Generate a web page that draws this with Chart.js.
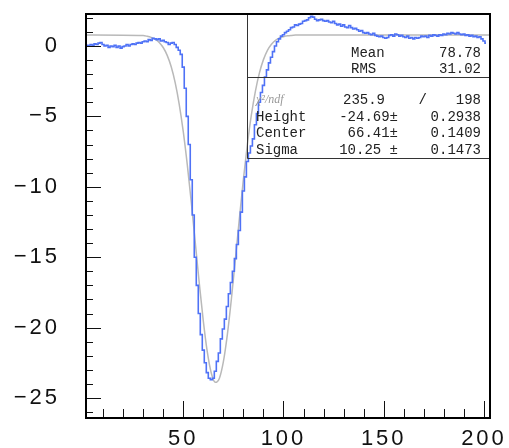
<!DOCTYPE html>
<html>
<head>
<meta charset="utf-8">
<script src="https://cdn.jsdelivr.net/npm/chart.js@4"></script>
<style>
  body { margin: 0; background: #fff; }
  canvas { display: block; }
</style>
</head>
<body>
<canvas id="chart" width="509" height="448"></canvas>
<script>
// histogram bins start at x = 1, one unit wide
const binStart = 1;
const histValues = [
  0.0, 0.05, 0.0, 0.1, 0.05, 0.15, 0.1, 0.2, 0.25, 0.1,
  0.0, 0.05, -0.1, 0.0, -0.05, 0.05, -0.1, 0.0, -0.15, -0.05,
  0.0, 0.1, 0.0, 0.1, 0.15, 0.1, 0.2, 0.25, 0.2, 0.3,
  0.35, 0.3, 0.45, 0.4, 0.55, 0.5, 0.45, 0.5, 0.35, 0.4,
  0.3, 0.25, 0.1, 0.2, 0.25, 0.1, -0.1, -0.3, -0.6, -1.5,
  -3.0, -5.0, -7.0, -9.5, -12.0, -15.0, -17.0, -19.0, -20.5, -21.6,
  -22.5, -23.2, -23.6, -23.7, -23.6, -23.1, -22.4, -21.8, -20.8, -20.1,
  -19.4, -18.5, -17.6, -16.8, -16.0, -15.1, -14.1, -13.1, -11.8, -10.3,
  -9.3, -8.2, -7.6, -7.1, -6.6, -5.6, -4.8, -4.0, -3.3, -2.8,
  -2.2, -1.7, -1.2, -0.8, -0.4, 0.0, 0.3, 0.5, 0.7, 0.8,
  0.95, 1.05, 1.15, 1.3, 1.35, 1.5, 1.45, 1.55, 1.6, 1.75,
  1.8, 1.85, 2.0, 2.1, 2.05, 1.9, 1.8, 1.85, 1.9, 1.8,
  1.75, 1.8, 1.7, 1.65, 1.75, 1.6, 1.5, 1.55, 1.4, 1.5,
  1.35, 1.3, 1.45, 1.3, 1.2, 1.25, 1.15, 1.05, 1.1, 0.95,
  0.9, 0.95, 0.85, 0.8, 0.9, 0.75, 0.7, 0.65, 0.7, 0.6,
  0.55, 0.6, 0.75, 0.8, 0.7, 0.85, 0.8, 0.7, 0.75, 0.65,
  0.6, 0.7, 0.55, 0.6, 0.5, 0.6, 0.55, 0.6, 0.7, 0.65,
  0.7, 0.6, 0.75, 0.7, 0.8, 0.75, 0.7, 0.8, 0.75, 0.85,
  0.8, 0.9, 0.85, 0.95, 0.9, 0.85, 0.95, 0.85, 0.8, 0.85,
  0.75, 0.8, 0.7, 0.75, 0.65, 0.7, 0.6, 0.65, 0.5, 0.35,
  0.2
];

// fitted curve
const fitX = [1, 30, 32, 34, 36, 38, 40, 42, 44, 46, 48, 50, 52, 54, 56, 58, 60, 62, 64, 66,
  68, 70, 72, 74, 76, 78, 80, 82, 84, 86, 88, 90, 92, 94, 96, 98, 100, 102, 104, 106, 110, 203];
const fitY = [0.78, 0.74, 0.69, 0.61, 0.48, 0.25, -0.11, -0.67, -1.48, -2.62, -4.14, -6.07, -8.41, -11.08, -13.96, -16.85, -19.52, -21.73, -23.24, -23.89,
  -23.61, -22.44, -20.5, -17.99, -15.16, -12.25, -9.47, -6.98, -4.88, -3.2, -1.91, -0.97, -0.31, 0.12, 0.4, 0.57, 0.66, 0.72, 0.75, 0.77, 0.78, 0.78];

const yTicks = [0, -5, -10, -15, -20, -25];
const xTicks = [50, 100, 150, 200];

const statsTop = [["Mean", "78.78"], ["RMS", "31.02"]];
const chi2 = ["235.9", "198"];
const fitParams = [
  ["Height", "-24.69\u00b1", "0.2938"],
  ["Center", "66.41\u00b1", "0.1409"],
  ["Sigma", "10.25 \u00b1", "0.1473"]
];

const tickFont = { family: "'Liberation Sans', Arial, sans-serif", size: 22 };

const noPad = (s) => {
  s.paddingTop = 0;
  s.paddingBottom = 0;
  s.paddingLeft = 0;
  s.paddingRight = 0;
};

const frameAndTicks = {
  id: "frameAndTicks",
  beforeDraw(chart) {
    chart.ctx.letterSpacing = "3px";
  },
  afterDatasetsDraw(chart) {
    const ctx = chart.ctx;
    const a = chart.chartArea;
    const xs = chart.scales.x, ys = chart.scales.y;
    ctx.save();
    ctx.letterSpacing = "0px";
    ctx.strokeStyle = "#111";
    ctx.lineWidth = 1;
    ctx.beginPath();
    for (let v = -26; v <= 2; v++) {
      const py = Math.round(ys.getPixelForValue(v)) + 0.5;
      const len = v % 5 === 0 ? 15 : 7;
      ctx.moveTo(a.left, py);
      ctx.lineTo(a.left + len, py);
    }
    for (let v = 10; v <= 200; v += 10) {
      const px = Math.round(xs.getPixelForValue(v)) + 0.5;
      const len = v % 50 === 0 ? 17 : 9;
      ctx.moveTo(px, a.bottom);
      ctx.lineTo(px, a.bottom - len);
    }
    ctx.stroke();

    // stats box
    const bx = 247.5;
    ctx.strokeStyle = "#333";
    ctx.beginPath();
    ctx.moveTo(bx, a.top);
    ctx.lineTo(bx, 158.5);
    ctx.moveTo(bx, 77.5);
    ctx.lineTo(a.right, 77.5);
    ctx.moveTo(bx, 158.5);
    ctx.lineTo(a.right, 158.5);
    ctx.stroke();

    ctx.font = "14px 'Liberation Mono', monospace";
    ctx.fillStyle = "#222";
    ctx.textBaseline = "middle";
    statsTop.forEach((row, i) => {
      const y = 53 + i * 16;
      ctx.textAlign = "left";
      ctx.fillText(row[0], 351, y);
      ctx.textAlign = "right";
      ctx.fillText(row[1], 481, y);
    });

    ctx.textAlign = "left";
    ctx.fillStyle = "#999";
    ctx.font = "italic 12px 'Liberation Serif', serif";
    ctx.fillText("\u03c7\u00b2/ndf", 256, 100);
    ctx.font = "14px 'Liberation Mono', monospace";
    ctx.fillStyle = "#222";
    ctx.textAlign = "right";
    ctx.fillText(chi2[0], 385, 100);
    ctx.fillText("/", 427, 100);
    ctx.fillText(chi2[1], 481, 100);
    fitParams.forEach((row, i) => {
      const y = 117 + i * 16.5;
      ctx.textAlign = "left";
      ctx.fillText(row[0], 256, y);
      ctx.textAlign = "right";
      ctx.fillText(row[1], 398, y);
      ctx.fillText(row[2], 481, y);
    });

    ctx.strokeStyle = "#000";
    ctx.lineWidth = 2;
    ctx.strokeRect(a.left, a.top, a.right - a.left, a.bottom - a.top);
    ctx.restore();
  }
};

new Chart(document.getElementById("chart"), {
  type: "line",
  data: {
    datasets: [
      {
        data: histValues.map((v, i) => ({ x: binStart + i, y: v })),
        borderColor: "#4f72f6",
        borderWidth: 1.6,
        pointRadius: 0,
        stepped: "middle",
        fill: false
      },
      {
        data: fitX.map((x, i) => ({ x: x, y: fitY[i] })),
        borderColor: "#b9b9b9",
        borderWidth: 1.5,
        pointRadius: 0,
        cubicInterpolationMode: "monotone",
        fill: false
      }
    ]
  },
  options: {
    responsive: false,
    animation: false,
    devicePixelRatio: 1,
    layout: { padding: { top: 14, right: 19, left: 0, bottom: 0 } },
    plugins: { legend: { display: false }, tooltip: { enabled: false } },
    scales: {
      x: {
        type: "linear",
        min: 1.5,
        max: 203,
        afterFit: (s) => { s.height = 30; noPad(s); },
        afterBuildTicks: (s) => { s.ticks = xTicks.map((v) => ({ value: v })); },
        grid: { display: false, drawTicks: false },
        border: { display: false },
        ticks: { color: "#111", font: tickFont, padding: 8, maxRotation: 0, autoSkip: false }
      },
      y: {
        type: "linear",
        min: -26.42,
        max: 2.27,
        afterFit: (s) => { s.width = 86; noPad(s); },
        afterBuildTicks: (s) => { s.ticks = yTicks.map((v) => ({ value: v })); },
        grid: { display: false, drawTicks: false },
        border: { display: false },
        ticks: {
          color: "#111",
          font: tickFont,
          padding: 26,
          autoSkip: false,
          callback: (v) => String(v).replace("-", "\u2212")
        }
      }
    }
  },
  plugins: [frameAndTicks]
});
</script>
</body>
</html>
